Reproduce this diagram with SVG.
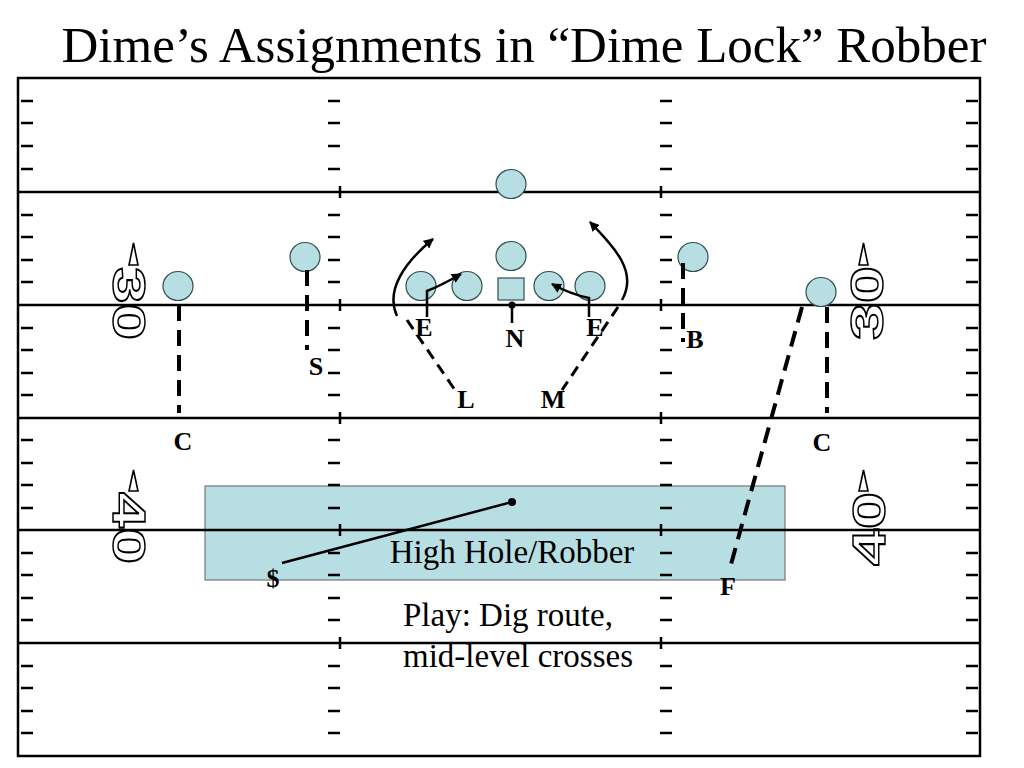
<svg xmlns="http://www.w3.org/2000/svg" xmlns:xlink="http://www.w3.org/1999/xlink" width="1024" height="768" viewBox="0 0 1024 768">
<style>
.fl{stroke:#000;stroke-width:2.5;fill:none}
.tk{stroke:#000;stroke-width:2.5;fill:none}
.p{fill:#B7DEE3;stroke:#2f4f4f;stroke-width:1.2}
.lb{font-family:"Liberation Serif","Times New Roman",serif;font-weight:bold;font-size:26px;fill:#000;text-anchor:middle}
.tx{font-family:"Liberation Serif","Times New Roman",serif;font-size:33px;fill:#000}
.yd{font-family:"Liberation Sans",Arial,sans-serif;font-weight:bold;font-size:46px;fill:none;stroke:#000;stroke-width:1.5}
.tri{fill:#fff;stroke:#000;stroke-width:1.6}
.dash{stroke:#000;stroke-width:4;fill:none;stroke-dasharray:16 9}
.dash2{stroke:#000;stroke-width:3;fill:none;stroke-dasharray:11 7}
.rt{stroke:#000;stroke-width:2.5;fill:none}
</style>
<defs>
<marker id="ah" viewBox="0 0 10 10" refX="9" refY="5" markerWidth="10" markerHeight="10" markerUnits="userSpaceOnUse" orient="auto">
<path d="M0 0 L10 5 L0 10 Z" fill="#000"/>
</marker>
<path id="ticks" class="tk" d="M0 101H12M0 123H12M0 146H12M0 169H12M0 215H12M0 237H12M0 260H12M0 282H12M0 328H12M0 350H12M0 373H12M0 395H12M0 440H12M0 463H12M0 485H12M0 508H12M0 553H12M0 575H12M0 598H12M0 620H12M0 666H12M0 688H12M0 711H12M0 733H12"/>
</defs>
<rect width="1024" height="768" fill="#fff"/>
<text x="524" y="62" font-family="'Liberation Serif','Times New Roman',serif" font-size="51" text-anchor="middle" fill="#000">Dime’s Assignments in “Dime Lock” Robber</text>

<g id="zone">
<rect x="205" y="486" width="580" height="94" fill="#B7DEE3" stroke="#777" stroke-width="1.2"/>
<text class="tx" x="512" y="563" text-anchor="middle">High Hole/Robber</text>
</g>

<g id="field">
<rect class="fl" x="18" y="78" width="962" height="678"/>
<path class="fl" d="M18 192H980M18 305H980M18 418H980M18 530H980M18 643H980"/>
<use xlink:href="#ticks" href="#ticks" x="21"/>
<use xlink:href="#ticks" href="#ticks" x="328"/>
<use xlink:href="#ticks" href="#ticks" x="660"/>
<use xlink:href="#ticks" href="#ticks" x="966"/>
<path class="tk" d="M340 186V198M340 299V311M340 412V424M340 524V536M340 637V649M661 186V198M661 299V311M661 412V424M661 524V536M661 637V649"/>
</g>

<g id="yard-numbers">
<polygon class="tri" points="129,265 138,265 133.5,243"/>
<text class="yd" transform="translate(113,267) rotate(90)" textLength="73" lengthAdjust="spacingAndGlyphs">30</text>
<polygon class="tri" points="129,491 138,491 133.5,470"/>
<text class="yd" transform="translate(113,492) rotate(90)" textLength="72" lengthAdjust="spacingAndGlyphs">40</text>
<polygon class="tri" points="859,265 868,265 863.5,243"/>
<text class="yd" transform="translate(883,340) rotate(-90)" textLength="74" lengthAdjust="spacingAndGlyphs">30</text>
<polygon class="tri" points="859,491 868,491 863.5,470"/>
<text class="yd" transform="translate(885,566) rotate(-90)" textLength="74" lengthAdjust="spacingAndGlyphs">40</text>
</g>

<g id="offense">
<ellipse id="o-deep" class="p" cx="511" cy="184" rx="15" ry="14.5"/>
<ellipse id="o-wr-l" class="p" cx="178" cy="286" rx="15" ry="14.5"/>
<ellipse id="o-slot-l" class="p" cx="305" cy="257" rx="15" ry="14.5"/>
<ellipse id="o-lt" class="p" cx="421" cy="286" rx="15" ry="14.5"/>
<ellipse id="o-lg" class="p" cx="467" cy="286" rx="15" ry="14.5"/>
<rect id="o-c" class="p" x="498" y="278" width="26" height="22"/>
<ellipse id="o-rg" class="p" cx="549" cy="286" rx="15" ry="14.5"/>
<ellipse id="o-rt" class="p" cx="590" cy="286" rx="15" ry="14.5"/>
<ellipse id="o-qb" class="p" cx="511" cy="256" rx="15" ry="14.5"/>
<ellipse id="o-slot-r" class="p" cx="693" cy="257" rx="15" ry="14.5"/>
<ellipse id="o-wr-r" class="p" cx="821" cy="292" rx="15" ry="14.5"/>
</g>

<g id="connectors">
<path class="dash" d="M179 305V413"/>
<path class="dash" d="M307 270V350"/>
<path class="dash" d="M683 263V342"/>
<path class="dash" d="M827 307V413"/>
<path class="dash" d="M802 307L730 568"/>
<path class="dash2" d="M407 320L457 393"/>
<path class="dash2" d="M618 307L562 390"/>
<path class="rt" d="M427 317V291Q440 286 461 274" marker-end="url(#ah)"/>
<path class="rt" d="M589 317V298Q570 294 552 284" marker-end="url(#ah)"/>
<path class="rt" d="M397 316C385 290 405 262 433 239" marker-end="url(#ah)"/>
<path class="rt" d="M622 300C638 272 615 248 590 222" marker-end="url(#ah)"/>
<path class="rt" d="M512 305V323"/>
<circle cx="512" cy="305" r="3.5" fill="#000"/>
<path class="rt" stroke-width="3" d="M282 563L512 502"/>
<circle cx="512" cy="502" r="4" fill="#000"/>
</g>

<g id="defense">
<text id="d-c-l" class="lb" x="183" y="450">C</text>
<text id="d-s" class="lb" x="316" y="375">S</text>
<text id="d-e-l" class="lb" x="424" y="336">E</text>
<text id="d-n" class="lb" x="515" y="347">N</text>
<text id="d-e-r" class="lb" x="595" y="336">E</text>
<text id="d-l" class="lb" x="466" y="408">L</text>
<text id="d-m" class="lb" x="553" y="408">M</text>
<text id="d-b" class="lb" x="695" y="348">B</text>
<text id="d-c-r" class="lb" x="822" y="451">C</text>
<text id="d-dollar" class="lb" x="273" y="587">$</text>
<text id="d-f" class="lb" x="728" y="595">F</text>
</g>

<g id="note">
<text class="tx" x="403" y="626">Play: Dig route,</text>
<text class="tx" x="403" y="667">mid-level crosses</text>
</g>
</svg>
